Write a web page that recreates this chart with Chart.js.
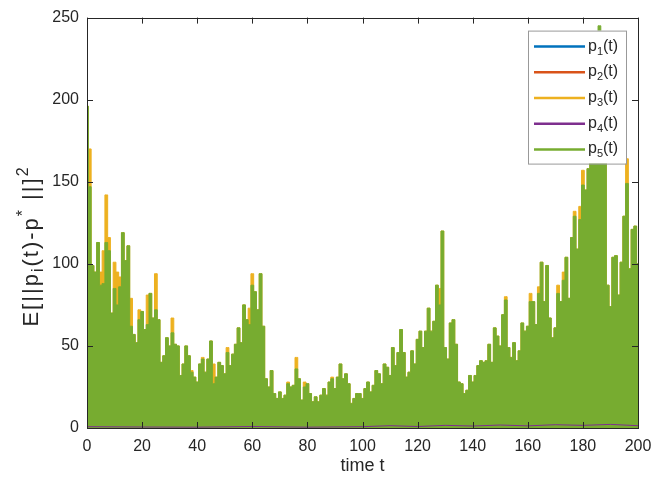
<!DOCTYPE html>
<html>
<head>
<meta charset="utf-8">
<script src="https://cdn.jsdelivr.net/npm/chart.js@4.4.0/dist/chart.umd.min.js"></script>
<style>
  html, body { margin: 0; padding: 0; background: #fff; }
</style>
</head>
<body>
<canvas id="errchart" width="670" height="481"></canvas>
<script>
// time grid (one sample per unit of t)
var tStart = 0;
var tEnd = 200;

// peak envelope of E[||p_i(t)-p*||^2]
var p5Err = [
  196,147,99,95,113,87,88,113,108,70,
  85,75,86,119,102,111,62,57,52,66,
  71,60,63,82,67,72,66,40,44,55,
  50,58,51,50,32,39,50,44,34,31,
  28,39,42,34,42,53,27,31,40,38,
  33,46,38,45,51,61,52,75,66,63,
  87,83,72,94,62,30,25,35,21,18,
  22,18,20,27,25,26,36,30,17,25,
  27,21,16,19,16,20,24,20,28,30,
  24,31,39,30,33,27,15,18,21,21,
  18,24,28,22,26,35,33,27,39,37,
  32,49,38,46,60,46,31,34,47,39,
  54,59,49,59,73,59,65,87,75,120,
  49,42,64,66,51,28,27,21,23,32,
  28,32,38,41,40,41,51,40,61,56,
  50,69,78,49,43,52,41,47,64,59,
  62,77,77,63,82,101,77,99,67,55,
  61,82,77,90,104,79,116,129,109,127,
  148,145,158,175,170,190,245,180,165,87,
  74,104,105,81,101,129,149,97,121,123,100
];
var p3Err = [
  196,170,99,95,113,95,108,142,116,70,
  101,95,92,119,102,111,79,57,52,72,
  71,60,81,82,67,94,66,40,44,55,
  50,67,51,50,32,39,50,44,35,31,
  28,39,43,34,42,53,39,31,40,38,
  33,49,38,45,51,61,52,75,66,73,
  94,83,72,94,62,30,25,35,21,18,
  22,18,20,28,25,26,43,30,17,28,
  27,21,16,19,16,20,24,20,28,31,
  24,31,39,30,33,27,15,18,21,21,
  18,24,28,22,26,35,33,27,39,37,
  32,49,38,46,60,46,31,34,47,39,
  54,59,49,59,73,59,65,87,85,120,
  49,42,64,66,51,28,27,21,23,32,
  28,32,38,41,40,41,51,40,61,56,
  50,69,80,49,43,52,41,47,64,59,
  62,82,77,63,86,101,77,99,67,55,
  61,87,77,95,104,79,116,132,109,135,
  157,145,158,175,181,190,190,180,165,87,
  74,104,105,81,101,129,164,97,121,123,100
];
// the other three stay close to zero
var smallT = [0, 20, 40, 60, 80, 100, 110, 120, 130, 140, 150, 160, 170, 180, 190, 200];
var p1Err = [1.0, 0.4, 0.3, 0.5, 0.3, 0.4, 0.6, 0.5, 0.8, 0.6, 0.9, 0.7, 1.0, 0.8, 1.1, 0.9];
var p2Err = [1.2, 0.5, 0.4, 0.6, 0.4, 0.5, 0.7, 0.6, 0.9, 0.7, 1.0, 0.8, 1.2, 0.9, 1.3, 1.0];
var p4Err = [0.8, 0.6, 0.5, 0.9, 0.5, 0.8, 1.4, 0.9, 1.6, 1.2, 1.8, 1.3, 2.0, 1.6, 2.2, 1.4];

var seriesNames = ['1', '2', '3', '4', '5'];
var seriesColors = ['#0072BD', '#D95319', '#EDB120', '#7E2F8E', '#77AC30'];

var timeGrid = [];
for (var t = tStart; t <= tEnd; t++) timeGrid.push(t);

function pairs(xs, ys) {
  return xs.map(function(x, i) { return {x: x, y: ys[i]}; });
}

var inkColor = '#262626';
var baseFont = '"Liberation Sans", Arial, Helvetica, sans-serif';

// matlab style box with inward ticks, legend, rich y label
var matlabAxes = {
  id: 'matlabAxes',
  afterDraw: function(chart) {
    var ctx = chart.ctx, a = chart.chartArea;
    var xs = chart.scales.x, ys = chart.scales.y;
    ctx.save();
    ctx.strokeStyle = inkColor;
    ctx.lineWidth = 1;
    ctx.strokeRect(Math.round(a.left) + 0.5, Math.round(a.top) + 0.5,
      Math.round(a.right - a.left), Math.round(a.bottom - a.top));
    var tl = 6;
    ctx.beginPath();
    xs.ticks.forEach(function(tk) {
      var px = Math.round(xs.getPixelForValue(tk.value)) + 0.5;
      ctx.moveTo(px, a.bottom); ctx.lineTo(px, a.bottom - tl);
      ctx.moveTo(px, a.top); ctx.lineTo(px, a.top + tl);
    });
    ys.ticks.forEach(function(tk) {
      var py = Math.round(ys.getPixelForValue(tk.value)) + 0.5;
      ctx.moveTo(a.left, py); ctx.lineTo(a.left + tl, py);
      ctx.moveTo(a.right, py); ctx.lineTo(a.right - tl, py);
    });
    ctx.stroke();

    // legend
    var bw = 98, bh = 133;
    var bx = a.right - 12 - bw, by = a.top + 13;
    ctx.fillStyle = '#fff';
    ctx.fillRect(bx, by, bw, bh);
    ctx.strokeStyle = '#999';
    ctx.strokeRect(bx + 0.5, by + 0.5, bw, bh);
    seriesNames.forEach(function(nm, i) {
      var ry = by + 16 + i * 25.7;
      ctx.strokeStyle = seriesColors[i];
      ctx.lineWidth = 2.5;
      ctx.beginPath();
      ctx.moveTo(bx + 6, ry); ctx.lineTo(bx + 57, ry);
      ctx.stroke();
      ctx.fillStyle = inkColor;
      ctx.textBaseline = 'alphabetic';
      ctx.textAlign = 'left';
      var tx = bx + 60;
      ctx.font = '16px ' + baseFont;
      ctx.fillText('p', tx, ry + 4);
      tx += ctx.measureText('p').width;
      ctx.font = '11px ' + baseFont;
      ctx.fillText(nm, tx, ry + 8);
      tx += ctx.measureText(nm).width;
      ctx.font = '16px ' + baseFont;
      ctx.fillText('(t)', tx, ry + 4);
    });

    // y label  E[||p_i(t)-p^* ||]^2
    var parts = [
      {s: 'E[||p', f: 22, dy: 0},
      {s: 'i', f: 16, dy: 5},
      {s: '(t)-p', f: 22, dy: 0},
      {s: '*', f: 16, dy: -10},
      {s: ' ||]', f: 22, dy: 0},
      {s: '2', f: 16, dy: -10}
    ];
    ctx.letterSpacing = '2px';
    var total = 0;
    parts.forEach(function(p) {
      ctx.font = p.f + 'px ' + baseFont;
      p.w = ctx.measureText(p.s).width;
      total += p.w;
    });
    ctx.translate(38, 246);
    ctx.rotate(-Math.PI / 2);
    ctx.fillStyle = inkColor;
    var cx = -total / 2;
    parts.forEach(function(p) {
      ctx.font = p.f + 'px ' + baseFont;
      ctx.fillText(p.s, cx, p.dy);
      cx += p.w;
    });
    ctx.restore();
  }
};

var tickFont = { family: baseFont, size: 16 };

var errChart = new Chart(document.getElementById('errchart').getContext('2d'), {
  type: 'line',
  data: {
    labels: timeGrid,
    datasets: [
      { label: 'p1(t)', data: pairs(smallT, p1Err), borderColor: seriesColors[0], borderWidth: 1, order: 5 },
      { label: 'p2(t)', data: pairs(smallT, p2Err), borderColor: seriesColors[1], borderWidth: 1, order: 4 },
      { label: 'p3(t)', data: p3Err, borderColor: seriesColors[2], backgroundColor: seriesColors[2],
        borderWidth: 1, fill: 'origin', stepped: 'middle', order: 3 },
      { label: 'p5(t)', data: p5Err, borderColor: seriesColors[4], backgroundColor: seriesColors[4],
        borderWidth: 1, fill: 'origin', stepped: 'middle', order: 2 },
      { label: 'p4(t)', data: pairs(smallT, p4Err), borderColor: seriesColors[3], borderWidth: 1, order: 1 }
    ]
  },
  options: {
    responsive: false,
    animation: false,
    devicePixelRatio: 1,
    layout: { padding: { left: 0, right: 32, top: 13, bottom: 0 } },
    elements: { point: { radius: 0 }, line: { tension: 0 } },
    plugins: { legend: { display: false }, tooltip: { enabled: false } },
    scales: {
      x: {
        type: 'linear', min: 0, max: 200,
        ticks: { stepSize: 20, font: tickFont, color: inkColor, padding: 9, maxRotation: 0 },
        grid: { display: false, drawTicks: false },
        border: { display: false },
        title: { display: true, text: 'time t', font: { family: baseFont, size: 18 }, color: inkColor, padding: { top: 0, bottom: 4 } },
        afterFit: function(s) { s.height = 53; }
      },
      y: {
        min: 0, max: 250,
        ticks: { stepSize: 50, font: tickFont, color: inkColor, padding: 8 },
        grid: { display: false, drawTicks: false },
        border: { display: false },
        afterFit: function(s) { s.width = 87; }
      }
    }
  },
  plugins: [matlabAxes]
});
</script>
</body>
</html>
